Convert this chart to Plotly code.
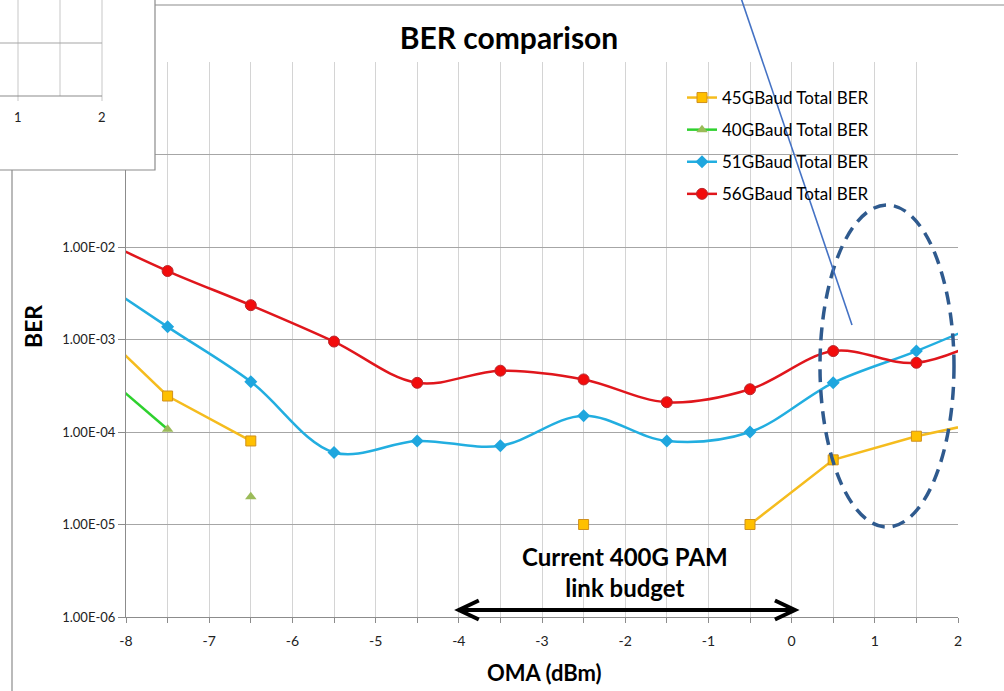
import plotly.graph_objects as go

# ---- data -------------------------------------------------------------
oma_dbm = [-8.5, -7.5, -6.5, -5.5, -4.5, -3.5, -2.5, -1.5, -0.5, 0.5, 1.5, 2.5]
ber_45g = [1.8e-3, 2.45e-4, 8.0e-5, None, None, None, 1.0e-5, None, 1.0e-5, 5.0e-5, 9.0e-5, 1.4e-4]
ber_51g = [5.5e-3, 1.37e-3, 3.5e-4, 6.0e-5, 8.0e-5, 7.1e-5, 1.5e-4, 8.0e-5, 1.0e-4, 3.4e-4, 7.5e-4, 1.8e-3]
ber_56g = [1.45e-2, 5.5e-3, 2.35e-3, 9.5e-4, 3.4e-4, 4.6e-4, 3.7e-4, 2.1e-4, 2.9e-4, 7.5e-4, 5.6e-4, 1.2e-3]
oma_40g = [-8.5, -7.5, -7.0, -6.5]
ber_40g = [6.3e-4, 1.07e-4, None, 2.0e-5]

series_names = ["45GBaud Total BER", "40GBaud Total BER", "51GBaud Total BER", "56GBaud Total BER"]
oma_ticks = [-8, -7, -6, -5, -4, -3, -2, -1, 0, 1, 2]
oma_tick_text = ["-8", "-7", "-6", "-5", "-4", "-3", "-2", "-1", "0", "1", "2"]
ber_ticks = [1e-6, 1e-5, 1e-4, 1e-3, 1e-2, 1e-1, 1e0]
ber_tick_text = ["1.00E-06", "1.00E-05", "1.00E-04", "1.00E-03", "1.00E-02", "1.00E-01", "1.00E+00"]
link_budget = [-4.0, 0.04]   # OMA span of the current 400G PAM budget
oma_range = [-8, 2]

# ---- page geometry ----------------------------------------------------
W, H = 1004, 691
ML, MR, MT, MB = 126, 46, 62, 74
PW, PH = W - ML - MR, H - MT - MB
FONT = "Lato"


def px(x):
    """pixel column -> paper x"""
    return (x - ML) / PW


def py(y):
    """pixel row -> paper y"""
    return (H - MB - y) / PH


fig = go.Figure()

fig.add_trace(go.Scatter(
    x=oma_dbm, y=ber_45g, name=series_names[0], legendgroup="g45",
    mode="lines+markers", line=dict(color="#F5BC1E", width=2.5),
    marker=dict(symbol="square", size=10, color="#FFC000", line=dict(color="#D0901C", width=1)),
    connectgaps=False))
fig.add_trace(go.Scatter(
    x=oma_40g, y=ber_40g, name=series_names[1], legendgroup="g40",
    mode="lines+markers", line=dict(color="#2ED12E", width=2.5),
    marker=dict(symbol="triangle-up", size=10, color="#9BBB59", line=dict(width=0)),
    connectgaps=False))
fig.add_trace(go.Scatter(
    x=oma_dbm, y=ber_51g, name=series_names[2], legendgroup="g51",
    mode="lines+markers", line=dict(color="#22AEE0", width=2.5, shape="spline", smoothing=1),
    marker=dict(symbol="diamond", size=10, color="#1FA6DE", line=dict(width=0))))
fig.add_trace(go.Scatter(
    x=oma_dbm, y=ber_56g, name=series_names[3], legendgroup="g56",
    mode="lines+markers", line=dict(color="#E0161C", width=2.5, shape="spline", smoothing=1),
    marker=dict(symbol="circle", size=11, color="#F20C0C", line=dict(color="#B8282E", width=1))))

shapes = []
# white panel behind the legend (hides the grid there)
shapes.append(dict(type="rect", xref="paper", yref="paper", layer="between",
                   x0=px(687), x1=px(877), y0=py(213), y1=py(77),
                   fillcolor="white", line=dict(width=0)))
# outer chart frame
shapes.append(dict(type="line", xref="paper", yref="paper", layer="above",
                   x0=px(155), x1=px(1010), y0=py(5), y1=py(5), line=dict(color="#8C8C8C", width=1.2)))
shapes.append(dict(type="line", xref="paper", yref="paper", layer="above",
                   x0=px(12), x1=px(12), y0=py(170), y1=py(700), line=dict(color="#8C8C8C", width=1.2)))
# overlapping corner of a second chart
shapes.append(dict(type="rect", xref="paper", yref="paper", layer="above",
                   x0=px(-5), x1=px(155), y0=py(170), y1=py(-5),
                   fillcolor="white", line=dict(color="#8C8C8C", width=1.2)))
for gx, bottom in [(18, 101), (60, 96), (102, 101)]:
    shapes.append(dict(type="line", xref="paper", yref="paper", layer="above",
                       x0=px(gx), x1=px(gx), y0=py(bottom), y1=py(-2),
                       line=dict(color="#D0D0D0", width=1.2)))
shapes.append(dict(type="line", xref="paper", yref="paper", layer="above",
                   x0=px(-2), x1=px(102), y0=py(43), y1=py(43), line=dict(color="#A6A6A6", width=1.2)))
shapes.append(dict(type="line", xref="paper", yref="paper", layer="above",
                   x0=px(-2), x1=px(102), y0=py(96), y1=py(96), line=dict(color="#8C8C8C", width=1.2)))
# dashed ellipse around the high-OMA points
shapes.append(dict(type="circle", xref="paper", yref="paper", layer="above",
                   x0=px(820), x1=px(954), y0=py(527), y1=py(205),
                   line=dict(color="#2F5A8E", width=3.5, dash="13px,8px")))
# thin pointer line
shapes.append(dict(type="line", xref="paper", yref="paper", layer="above",
                   x0=px(741), y0=py(-2), x1=px(852), y1=py(325),
                   line=dict(color="#4472C4", width=1.6)))
# double-headed arrow spanning the link budget
arrow_y = py(610)
head_dx = 20 / (PW / (oma_range[1] - oma_range[0]))
head_dy = 9.5 / PH
shapes.append(dict(type="line", xref="x", yref="paper", layer="above",
                   x0=link_budget[0], x1=link_budget[1], y0=arrow_y, y1=arrow_y,
                   line=dict(color="black", width=4)))
for tip, sgn in [(link_budget[0], 1), (link_budget[1], -1)]:
    shapes.append(dict(
        type="path", xref="x", yref="paper", layer="above",
        path=f"M {tip + sgn * head_dx} {arrow_y + head_dy} L {tip} {arrow_y} L {tip + sgn * head_dx} {arrow_y - head_dy}",
        line=dict(color="black", width=4)))

annotations = [
    dict(text="<b>BER</b>", xref="paper", yref="paper", x=px(33), y=py(327), textangle=-90,
         showarrow=False, font=dict(family=FONT, size=23, color="black"), xanchor="center", yanchor="middle"),
    dict(text="<b>OMA (dBm)</b>", xref="paper", yref="paper", x=px(544), y=py(672),
         showarrow=False, font=dict(family=FONT, size=22, color="black"), xanchor="center", yanchor="middle"),
    dict(text="<b>Current 400G PAM<br>link budget</b>", xref="paper", yref="paper", x=px(625), y=py(572),
         showarrow=False, font=dict(family=FONT, size=24, color="black"), xanchor="center", yanchor="middle"),
    dict(text="1", xref="paper", yref="paper", x=px(18), y=py(117), showarrow=False,
         font=dict(family=FONT, size=13, color="#222"), xanchor="center", yanchor="middle"),
    dict(text="2", xref="paper", yref="paper", x=px(102), y=py(117), showarrow=False,
         font=dict(family=FONT, size=13, color="#222"), xanchor="center", yanchor="middle"),
]

fig.update_layout(
    width=W, height=H,
    margin=dict(l=ML, r=MR, t=MT, b=MB, autoexpand=False),
    paper_bgcolor="white", plot_bgcolor="white",
    font=dict(family=FONT, color="#222"),
    title=dict(text="<b>BER comparison</b>", x=509 / W, y=1 - 38 / H, xanchor="center", yanchor="middle",
               font=dict(family=FONT, size=30, color="black")),
    showlegend=True,
    legend=dict(x=px(682), y=py(80), xanchor="left", yanchor="top", bgcolor="rgba(0,0,0,0)",
                font=dict(family=FONT, size=17, color="black"), tracegroupgap=7,
                traceorder="grouped", itemwidth=30),
    xaxis=dict(range=oma_range, tickvals=oma_ticks, ticktext=oma_tick_text,
               showgrid=True, gridcolor="#D4D4D4", gridwidth=1.2,
               minor=dict(dtick=0.5, tick0=0, showgrid=True, gridcolor="#D4D4D4", gridwidth=1.2,
                          ticks="outside", ticklen=5, tickcolor="#8C8C8C"),
               ticks="outside", ticklen=5, tickcolor="#8C8C8C", ticklabelstandoff=6,
               showline=True, linecolor="#8C8C8C", linewidth=1.2, zeroline=False,
               tickfont=dict(family=FONT, size=14, color="#222")),
    yaxis=dict(type="log", range=[-6, 0], tickvals=ber_ticks, ticktext=ber_tick_text,
               showgrid=True, gridcolor="#A6A6A6", gridwidth=1.2,
               ticks="outside", ticklen=7, tickcolor="#8C8C8C",
               showline=True, linecolor="#8C8C8C", linewidth=1.2, zeroline=False,
               tickfont=dict(family=FONT, size=13, color="#222")),
    shapes=shapes,
    annotations=annotations,
)

fig.write_html("out.html")
